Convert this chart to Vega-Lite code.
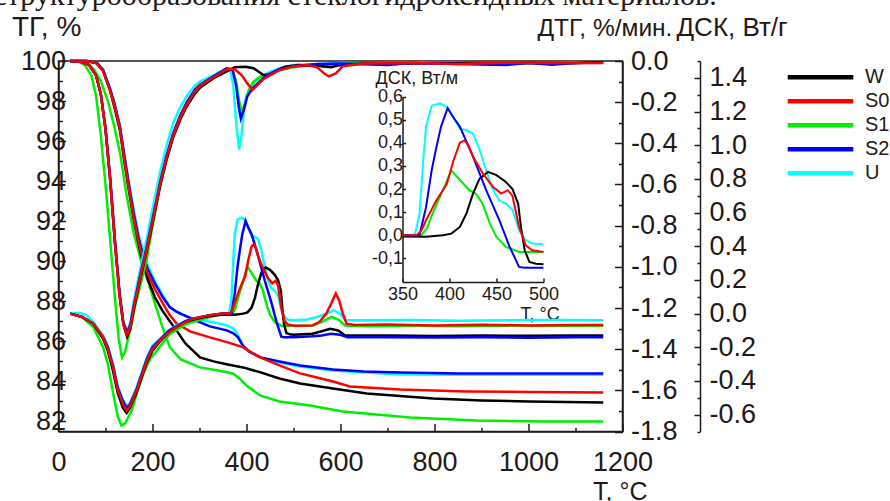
{
"$schema": "https://vega.github.io/schema/vega-lite/v6.json",
"width": 564, "height": 370.5,
"autosize": {"type": "none"},
"padding": {"left": 58.5, "top": 61, "right": 267.5, "bottom": 69.5},
"background": "white",
"title": {"text": "структурообразования стеклогидроксидных материалов.", "anchor": "start", "frame": "group", "orient": "top", "font": "Liberation Serif", "fontSize": 30, "fontWeight": "normal", "color": "#231815", "baseline": "alphabetic", "offset": -21, "dx": -65},
"config": {
  "view": {"stroke": "#231815", "strokeWidth": 1.5},
  "font": "Liberation Sans",
  "axis": {"labelFont": "Liberation Sans", "titleFont": "Liberation Sans", "labelColor": "#231815", "titleColor": "#231815", "domainColor": "#231815", "tickColor": "#231815", "grid": false, "titleFontWeight": "normal", "domainWidth": 1.5, "tickWidth": 1.5, "labelFlush": false, "labelOverlap": false},
  "legend": {"orient": "none", "legendX": 726.5, "legendY": 6.3, "symbolType": "stroke", "symbolSize": 4300, "symbolStrokeWidth": 4.5, "clipHeight": 20, "rowPadding": 4, "labelFontSize": 20, "labelFont": "Liberation Sans", "labelColor": "#231815", "labelOffset": 9, "padding": 0, "title": null}
},
"datasets": {
"tg": [
{"s":"U","T":25,"v":100},{"s":"U","T":60,"v":100},{"s":"U","T":82,"v":99.9},{"s":"U","T":95,"v":99.55},{"s":"U","T":110,"v":98.6},{"s":"U","T":120,"v":97.8},{"s":"U","T":131,"v":96.7},{"s":"U","T":140,"v":95.3},{"s":"U","T":150,"v":93.9},{"s":"U","T":160,"v":92.6},{"s":"U","T":170,"v":91.4},{"s":"U","T":180,"v":90.5},{"s":"U","T":190,"v":89.8},{"s":"U","T":205,"v":89.0},{"s":"U","T":222,"v":88.3},{"s":"U","T":237,"v":87.7},{"s":"U","T":260,"v":87.35},{"s":"U","T":301,"v":87.05},{"s":"U","T":330,"v":86.95},{"s":"U","T":358,"v":86.8},{"s":"U","T":372,"v":86.65},{"s":"U","T":380,"v":86.4},{"s":"U","T":388,"v":86.0},{"s":"U","T":396,"v":85.7},{"s":"U","T":410,"v":85.45},{"s":"U","T":429,"v":85.2},{"s":"U","T":470,"v":84.95},{"s":"U","T":514,"v":84.75},{"s":"U","T":584,"v":84.55},{"s":"U","T":727,"v":84.35},{"s":"U","T":900,"v":84.33},{"s":"U","T":1159,"v":84.33},
{"s":"S1","T":25,"v":100},{"s":"S1","T":45,"v":100},{"s":"S1","T":60,"v":99.9},{"s":"S1","T":75,"v":99.6},{"s":"S1","T":90,"v":99.0},{"s":"S1","T":105,"v":98.0},{"s":"S1","T":118,"v":96.8},{"s":"S1","T":131,"v":95.4},{"s":"S1","T":145,"v":93.3},{"s":"S1","T":160,"v":91.4},{"s":"S1","T":175,"v":90.1},{"s":"S1","T":190,"v":89.05},{"s":"S1","T":205,"v":87.9},{"s":"S1","T":220,"v":86.8},{"s":"S1","T":237,"v":85.7},{"s":"S1","T":260,"v":85.1},{"s":"S1","T":301,"v":84.7},{"s":"S1","T":340,"v":84.55},{"s":"S1","T":371,"v":84.4},{"s":"S1","T":385,"v":84.15},{"s":"S1","T":400,"v":83.8},{"s":"S1","T":429,"v":83.3},{"s":"S1","T":470,"v":83.0},{"s":"S1","T":535,"v":82.8},{"s":"S1","T":605,"v":82.5},{"s":"S1","T":748,"v":82.2},{"s":"S1","T":890,"v":82.05},{"s":"S1","T":1031,"v":82.0},{"s":"S1","T":1159,"v":82.0},
{"s":"W","T":25,"v":100},{"s":"W","T":60,"v":100},{"s":"W","T":80,"v":99.9},{"s":"W","T":95,"v":99.5},{"s":"W","T":110,"v":98.5},{"s":"W","T":120,"v":97.6},{"s":"W","T":131,"v":96.5},{"s":"W","T":140,"v":95.0},{"s":"W","T":150,"v":93.5},{"s":"W","T":160,"v":92.1},{"s":"W","T":170,"v":90.9},{"s":"W","T":180,"v":89.9},{"s":"W","T":190,"v":89.1},{"s":"W","T":205,"v":88.2},{"s":"W","T":222,"v":87.5},{"s":"W","T":237,"v":87.0},{"s":"W","T":251,"v":86.55},{"s":"W","T":270,"v":85.9},{"s":"W","T":301,"v":85.2},{"s":"W","T":330,"v":85.0},{"s":"W","T":360,"v":84.85},{"s":"W","T":393,"v":84.7},{"s":"W","T":430,"v":84.45},{"s":"W","T":470,"v":84.15},{"s":"W","T":514,"v":83.9},{"s":"W","T":584,"v":83.65},{"s":"W","T":656,"v":83.4},{"s":"W","T":797,"v":83.15},{"s":"W","T":900,"v":83.05},{"s":"W","T":1000,"v":83.0},{"s":"W","T":1159,"v":82.95},
{"s":"S2","T":25,"v":100},{"s":"S2","T":60,"v":100},{"s":"S2","T":82,"v":99.9},{"s":"S2","T":95,"v":99.55},{"s":"S2","T":110,"v":98.6},{"s":"S2","T":120,"v":97.8},{"s":"S2","T":131,"v":96.7},{"s":"S2","T":140,"v":95.3},{"s":"S2","T":150,"v":93.8},{"s":"S2","T":160,"v":92.4},{"s":"S2","T":170,"v":91.2},{"s":"S2","T":180,"v":90.3},{"s":"S2","T":190,"v":89.6},{"s":"S2","T":205,"v":88.9},{"s":"S2","T":222,"v":88.2},{"s":"S2","T":237,"v":87.7},{"s":"S2","T":250,"v":87.5},{"s":"S2","T":286,"v":87.1},{"s":"S2","T":322,"v":86.75},{"s":"S2","T":358,"v":86.55},{"s":"S2","T":372,"v":86.4},{"s":"S2","T":382,"v":86.2},{"s":"S2","T":392,"v":85.8},{"s":"S2","T":405,"v":85.5},{"s":"S2","T":430,"v":85.2},{"s":"S2","T":470,"v":85.0},{"s":"S2","T":514,"v":84.8},{"s":"S2","T":584,"v":84.6},{"s":"S2","T":650,"v":84.5},{"s":"S2","T":727,"v":84.45},{"s":"S2","T":850,"v":84.4},{"s":"S2","T":1000,"v":84.4},{"s":"S2","T":1159,"v":84.4},
{"s":"S0","T":25,"v":100},{"s":"S0","T":60,"v":100},{"s":"S0","T":80,"v":99.9},{"s":"S0","T":95,"v":99.5},{"s":"S0","T":110,"v":98.5},{"s":"S0","T":120,"v":97.7},{"s":"S0","T":131,"v":96.6},{"s":"S0","T":140,"v":95.1},{"s":"S0","T":150,"v":93.6},{"s":"S0","T":160,"v":92.2},{"s":"S0","T":170,"v":91.0},{"s":"S0","T":180,"v":90.1},{"s":"S0","T":190,"v":89.4},{"s":"S0","T":205,"v":88.6},{"s":"S0","T":222,"v":87.9},{"s":"S0","T":237,"v":87.3},{"s":"S0","T":251,"v":86.9},{"s":"S0","T":280,"v":86.5},{"s":"S0","T":322,"v":86.2},{"s":"S0","T":360,"v":85.95},{"s":"S0","T":393,"v":85.7},{"s":"S0","T":410,"v":85.45},{"s":"S0","T":429,"v":85.2},{"s":"S0","T":470,"v":84.8},{"s":"S0","T":514,"v":84.4},{"s":"S0","T":550,"v":84.2},{"s":"S0","T":584,"v":84.0},{"s":"S0","T":620,"v":83.75},{"s":"S0","T":727,"v":83.6},{"s":"S0","T":868,"v":83.5},{"s":"S0","T":1000,"v":83.47},{"s":"S0","T":1159,"v":83.45}
],
"dtg": [
{"s":"U","T":25,"v":0},{"s":"U","T":50,"v":-0.005},{"s":"U","T":65,"v":-0.02},{"s":"U","T":80,"v":-0.07},{"s":"U","T":90,"v":-0.16},{"s":"U","T":100,"v":-0.33},{"s":"U","T":110,"v":-0.57},{"s":"U","T":120,"v":-0.87},{"s":"U","T":130,"v":-1.13},{"s":"U","T":138,"v":-1.27},{"s":"U","T":146,"v":-1.31},{"s":"U","T":153,"v":-1.27},{"s":"U","T":160,"v":-1.17},{"s":"U","T":173,"v":-1.02},{"s":"U","T":188,"v":-0.86},{"s":"U","T":200,"v":-0.72},{"s":"U","T":216,"v":-0.54},{"s":"U","T":230,"v":-0.41},{"s":"U","T":244,"v":-0.3},{"s":"U","T":260,"v":-0.22},{"s":"U","T":273,"v":-0.17},{"s":"U","T":290,"v":-0.12},{"s":"U","T":301,"v":-0.1},{"s":"U","T":329,"v":-0.07},{"s":"U","T":358,"v":-0.035},{"s":"U","T":366,"v":-0.05},{"s":"U","T":372,"v":-0.12},{"s":"U","T":378,"v":-0.3},{"s":"U","T":384,"v":-0.43},{"s":"U","T":389,"v":-0.37},{"s":"U","T":394,"v":-0.25},{"s":"U","T":400,"v":-0.17},{"s":"U","T":414,"v":-0.11},{"s":"U","T":443,"v":-0.06},{"s":"U","T":470,"v":-0.035},{"s":"U","T":500,"v":-0.02},{"s":"U","T":560,"v":-0.015},{"s":"U","T":600,"v":-0.01},{"s":"U","T":700,"v":-0.012},{"s":"U","T":800,"v":-0.008},{"s":"U","T":900,"v":-0.012},{"s":"U","T":1000,"v":-0.008},{"s":"U","T":1159,"v":-0.005},
{"s":"S1","T":25,"v":0},{"s":"S1","T":45,"v":-0.005},{"s":"S1","T":56,"v":-0.02},{"s":"S1","T":70,"v":-0.07},{"s":"S1","T":80,"v":-0.17},{"s":"S1","T":90,"v":-0.36},{"s":"S1","T":100,"v":-0.6},{"s":"S1","T":110,"v":-0.87},{"s":"S1","T":120,"v":-1.15},{"s":"S1","T":128,"v":-1.35},{"s":"S1","T":135,"v":-1.44},{"s":"S1","T":142,"v":-1.41},{"s":"S1","T":152,"v":-1.31},{"s":"S1","T":163,"v":-1.19},{"s":"S1","T":173,"v":-1.1},{"s":"S1","T":188,"v":-0.96},{"s":"S1","T":200,"v":-0.8},{"s":"S1","T":216,"v":-0.61},{"s":"S1","T":230,"v":-0.47},{"s":"S1","T":244,"v":-0.36},{"s":"S1","T":260,"v":-0.27},{"s":"S1","T":273,"v":-0.21},{"s":"S1","T":290,"v":-0.15},{"s":"S1","T":301,"v":-0.12},{"s":"S1","T":329,"v":-0.08},{"s":"S1","T":358,"v":-0.04},{"s":"S1","T":370,"v":-0.04},{"s":"S1","T":378,"v":-0.1},{"s":"S1","T":384,"v":-0.19},{"s":"S1","T":390,"v":-0.25},{"s":"S1","T":396,"v":-0.21},{"s":"S1","T":405,"v":-0.14},{"s":"S1","T":415,"v":-0.1},{"s":"S1","T":430,"v":-0.075},{"s":"S1","T":450,"v":-0.06},{"s":"S1","T":470,"v":-0.045},{"s":"S1","T":500,"v":-0.03},{"s":"S1","T":540,"v":-0.02},{"s":"S1","T":570,"v":-0.025},{"s":"S1","T":590,"v":-0.02},{"s":"S1","T":620,"v":-0.012},{"s":"S1","T":700,"v":-0.01},{"s":"S1","T":800,"v":-0.008},{"s":"S1","T":900,"v":-0.012},{"s":"S1","T":1000,"v":-0.008},{"s":"S1","T":1100,"v":-0.01},{"s":"S1","T":1159,"v":-0.005},
{"s":"W","T":25,"v":0},{"s":"W","T":50,"v":-0.005},{"s":"W","T":65,"v":-0.02},{"s":"W","T":80,"v":-0.07},{"s":"W","T":90,"v":-0.16},{"s":"W","T":100,"v":-0.33},{"s":"W","T":110,"v":-0.58},{"s":"W","T":120,"v":-0.88},{"s":"W","T":130,"v":-1.14},{"s":"W","T":138,"v":-1.28},{"s":"W","T":146,"v":-1.34},{"s":"W","T":153,"v":-1.3},{"s":"W","T":160,"v":-1.21},{"s":"W","T":173,"v":-1.07},{"s":"W","T":188,"v":-0.92},{"s":"W","T":200,"v":-0.79},{"s":"W","T":216,"v":-0.61},{"s":"W","T":230,"v":-0.48},{"s":"W","T":244,"v":-0.37},{"s":"W","T":260,"v":-0.28},{"s":"W","T":273,"v":-0.22},{"s":"W","T":290,"v":-0.16},{"s":"W","T":301,"v":-0.13},{"s":"W","T":329,"v":-0.085},{"s":"W","T":358,"v":-0.05},{"s":"W","T":375,"v":-0.03},{"s":"W","T":398,"v":-0.028},{"s":"W","T":415,"v":-0.035},{"s":"W","T":436,"v":-0.068},{"s":"W","T":450,"v":-0.065},{"s":"W","T":465,"v":-0.045},{"s":"W","T":482,"v":-0.028},{"s":"W","T":510,"v":-0.02},{"s":"W","T":560,"v":-0.025},{"s":"W","T":580,"v":-0.03},{"s":"W","T":600,"v":-0.02},{"s":"W","T":650,"v":-0.012},{"s":"W","T":700,"v":-0.015},{"s":"W","T":800,"v":-0.01},{"s":"W","T":900,"v":-0.012},{"s":"W","T":1000,"v":-0.008},{"s":"W","T":1100,"v":-0.01},{"s":"W","T":1159,"v":-0.005},
{"s":"S2","T":25,"v":0},{"s":"S2","T":50,"v":-0.005},{"s":"S2","T":65,"v":-0.02},{"s":"S2","T":80,"v":-0.07},{"s":"S2","T":90,"v":-0.16},{"s":"S2","T":100,"v":-0.33},{"s":"S2","T":110,"v":-0.57},{"s":"S2","T":120,"v":-0.87},{"s":"S2","T":130,"v":-1.13},{"s":"S2","T":138,"v":-1.27},{"s":"S2","T":146,"v":-1.32},{"s":"S2","T":153,"v":-1.28},{"s":"S2","T":160,"v":-1.19},{"s":"S2","T":173,"v":-1.05},{"s":"S2","T":188,"v":-0.9},{"s":"S2","T":200,"v":-0.77},{"s":"S2","T":216,"v":-0.59},{"s":"S2","T":230,"v":-0.46},{"s":"S2","T":244,"v":-0.35},{"s":"S2","T":260,"v":-0.26},{"s":"S2","T":273,"v":-0.2},{"s":"S2","T":290,"v":-0.14},{"s":"S2","T":301,"v":-0.115},{"s":"S2","T":329,"v":-0.075},{"s":"S2","T":358,"v":-0.035},{"s":"S2","T":370,"v":-0.04},{"s":"S2","T":378,"v":-0.12},{"s":"S2","T":384,"v":-0.23},{"s":"S2","T":388,"v":-0.28},{"s":"S2","T":394,"v":-0.24},{"s":"S2","T":402,"v":-0.17},{"s":"S2","T":414,"v":-0.13},{"s":"S2","T":428,"v":-0.1},{"s":"S2","T":443,"v":-0.07},{"s":"S2","T":470,"v":-0.04},{"s":"S2","T":500,"v":-0.025},{"s":"S2","T":550,"v":-0.015},{"s":"S2","T":600,"v":-0.012},{"s":"S2","T":700,"v":-0.02},{"s":"S2","T":750,"v":-0.01},{"s":"S2","T":850,"v":-0.015},{"s":"S2","T":950,"v":-0.02},{"s":"S2","T":1000,"v":-0.01},{"s":"S2","T":1050,"v":-0.018},{"s":"S2","T":1100,"v":-0.01},{"s":"S2","T":1159,"v":-0.008},
{"s":"S0","T":25,"v":0},{"s":"S0","T":50,"v":-0.005},{"s":"S0","T":65,"v":-0.02},{"s":"S0","T":80,"v":-0.07},{"s":"S0","T":90,"v":-0.16},{"s":"S0","T":100,"v":-0.33},{"s":"S0","T":110,"v":-0.58},{"s":"S0","T":120,"v":-0.88},{"s":"S0","T":130,"v":-1.14},{"s":"S0","T":138,"v":-1.28},{"s":"S0","T":146,"v":-1.33},{"s":"S0","T":153,"v":-1.29},{"s":"S0","T":160,"v":-1.2},{"s":"S0","T":173,"v":-1.06},{"s":"S0","T":188,"v":-0.91},{"s":"S0","T":200,"v":-0.78},{"s":"S0","T":216,"v":-0.6},{"s":"S0","T":230,"v":-0.47},{"s":"S0","T":244,"v":-0.36},{"s":"S0","T":260,"v":-0.27},{"s":"S0","T":273,"v":-0.21},{"s":"S0","T":290,"v":-0.15},{"s":"S0","T":301,"v":-0.12},{"s":"S0","T":329,"v":-0.08},{"s":"S0","T":358,"v":-0.04},{"s":"S0","T":375,"v":-0.04},{"s":"S0","T":390,"v":-0.07},{"s":"S0","T":402,"v":-0.11},{"s":"S0","T":413,"v":-0.14},{"s":"S0","T":422,"v":-0.12},{"s":"S0","T":435,"v":-0.09},{"s":"S0","T":450,"v":-0.07},{"s":"S0","T":470,"v":-0.045},{"s":"S0","T":500,"v":-0.025},{"s":"S0","T":530,"v":-0.02},{"s":"S0","T":550,"v":-0.03},{"s":"S0","T":565,"v":-0.06},{"s":"S0","T":575,"v":-0.075},{"s":"S0","T":590,"v":-0.06},{"s":"S0","T":605,"v":-0.025},{"s":"S0","T":650,"v":-0.012},{"s":"S0","T":750,"v":-0.01},{"s":"S0","T":850,"v":-0.015},{"s":"S0","T":950,"v":-0.008},{"s":"S0","T":1050,"v":-0.01},{"s":"S0","T":1159,"v":-0.01}
],
"dsc": [
{"s":"U","T":25,"v":0.0},{"s":"U","T":45,"v":0.005},{"s":"U","T":60,"v":-0.01},{"s":"U","T":74,"v":-0.05},{"s":"U","T":95,"v":-0.13},{"s":"U","T":105,"v":-0.19},{"s":"U","T":116,"v":-0.3},{"s":"U","T":126,"v":-0.43},{"s":"U","T":137,"v":-0.51},{"s":"U","T":145,"v":-0.55},{"s":"U","T":152,"v":-0.53},{"s":"U","T":166,"v":-0.44},{"s":"U","T":177,"v":-0.35},{"s":"U","T":188,"v":-0.26},{"s":"U","T":200,"v":-0.19},{"s":"U","T":216,"v":-0.15},{"s":"U","T":235,"v":-0.1},{"s":"U","T":251,"v":-0.07},{"s":"U","T":270,"v":-0.045},{"s":"U","T":286,"v":-0.03},{"s":"U","T":322,"v":-0.01},{"s":"U","T":350,"v":0.0},{"s":"U","T":363,"v":0.0},{"s":"U","T":368,"v":0.09},{"s":"U","T":372,"v":0.32},{"s":"U","T":375,"v":0.47},{"s":"U","T":381,"v":0.56},{"s":"U","T":390,"v":0.57},{"s":"U","T":397,"v":0.555},{"s":"U","T":404,"v":0.51},{"s":"U","T":411,"v":0.46},{"s":"U","T":418,"v":0.455},{"s":"U","T":425,"v":0.44},{"s":"U","T":432,"v":0.37},{"s":"U","T":439,"v":0.28},{"s":"U","T":446,"v":0.2},{"s":"U","T":453,"v":0.15},{"s":"U","T":460,"v":0.137},{"s":"U","T":467,"v":0.11},{"s":"U","T":474,"v":0.02},{"s":"U","T":481,"v":-0.02},{"s":"U","T":488,"v":-0.036},{"s":"U","T":500,"v":-0.039},{"s":"U","T":529,"v":-0.035},{"s":"U","T":550,"v":-0.02},{"s":"U","T":570,"v":0.0},{"s":"U","T":585,"v":0.02},{"s":"U","T":598,"v":0.0},{"s":"U","T":612,"v":-0.04},{"s":"U","T":650,"v":-0.04},{"s":"U","T":750,"v":-0.038},{"s":"U","T":850,"v":-0.042},{"s":"U","T":950,"v":-0.04},{"s":"U","T":1050,"v":-0.038},{"s":"U","T":1159,"v":-0.04},
{"s":"S1","T":25,"v":0.0},{"s":"S1","T":50,"v":-0.02},{"s":"S1","T":74,"v":-0.08},{"s":"S1","T":95,"v":-0.2},{"s":"S1","T":105,"v":-0.3},{"s":"S1","T":116,"v":-0.47},{"s":"S1","T":126,"v":-0.61},{"s":"S1","T":134,"v":-0.665},{"s":"S1","T":142,"v":-0.65},{"s":"S1","T":156,"v":-0.575},{"s":"S1","T":168,"v":-0.46},{"s":"S1","T":180,"v":-0.36},{"s":"S1","T":195,"v":-0.27},{"s":"S1","T":209,"v":-0.22},{"s":"S1","T":237,"v":-0.12},{"s":"S1","T":273,"v":-0.06},{"s":"S1","T":310,"v":-0.03},{"s":"S1","T":350,"v":0.0},{"s":"S1","T":370,"v":0.0},{"s":"S1","T":376,"v":0.03},{"s":"S1","T":382,"v":0.094},{"s":"S1","T":393,"v":0.195},{"s":"S1","T":402,"v":0.28},{"s":"S1","T":411,"v":0.24},{"s":"S1","T":421,"v":0.195},{"s":"S1","T":428,"v":0.18},{"s":"S1","T":435,"v":0.137},{"s":"S1","T":443,"v":0.05},{"s":"S1","T":450,"v":-0.007},{"s":"S1","T":460,"v":-0.05},{"s":"S1","T":474,"v":-0.072},{"s":"S1","T":500,"v":-0.072},{"s":"S1","T":540,"v":-0.07},{"s":"S1","T":560,"v":-0.05},{"s":"S1","T":581,"v":-0.02},{"s":"S1","T":595,"v":-0.035},{"s":"S1","T":610,"v":-0.07},{"s":"S1","T":650,"v":-0.075},{"s":"S1","T":750,"v":-0.072},{"s":"S1","T":850,"v":-0.075},{"s":"S1","T":950,"v":-0.072},{"s":"S1","T":1050,"v":-0.074},{"s":"S1","T":1159,"v":-0.072},
{"s":"W","T":25,"v":0.0},{"s":"W","T":50,"v":-0.02},{"s":"W","T":74,"v":-0.06},{"s":"W","T":95,"v":-0.15},{"s":"W","T":105,"v":-0.22},{"s":"W","T":116,"v":-0.34},{"s":"W","T":126,"v":-0.47},{"s":"W","T":137,"v":-0.56},{"s":"W","T":145,"v":-0.59},{"s":"W","T":152,"v":-0.56},{"s":"W","T":166,"v":-0.47},{"s":"W","T":177,"v":-0.38},{"s":"W","T":188,"v":-0.29},{"s":"W","T":200,"v":-0.22},{"s":"W","T":216,"v":-0.165},{"s":"W","T":235,"v":-0.11},{"s":"W","T":251,"v":-0.08},{"s":"W","T":270,"v":-0.05},{"s":"W","T":286,"v":-0.035},{"s":"W","T":322,"v":-0.015},{"s":"W","T":350,"v":-0.005},{"s":"W","T":375,"v":-0.007},{"s":"W","T":393,"v":0.0},{"s":"W","T":402,"v":0.007},{"s":"W","T":411,"v":0.036},{"s":"W","T":418,"v":0.094},{"s":"W","T":425,"v":0.18},{"s":"W","T":432,"v":0.245},{"s":"W","T":441,"v":0.274},{"s":"W","T":450,"v":0.26},{"s":"W","T":460,"v":0.23},{"s":"W","T":467,"v":0.2},{"s":"W","T":473,"v":0.137},{"s":"W","T":476,"v":0.036},{"s":"W","T":480,"v":-0.065},{"s":"W","T":485,"v":-0.115},{"s":"W","T":492,"v":-0.123},{"s":"W","T":500,"v":-0.125},{"s":"W","T":540,"v":-0.12},{"s":"W","T":560,"v":-0.105},{"s":"W","T":578,"v":-0.09},{"s":"W","T":595,"v":-0.1},{"s":"W","T":610,"v":-0.13},{"s":"W","T":700,"v":-0.13},{"s":"W","T":800,"v":-0.133},{"s":"W","T":900,"v":-0.13},{"s":"W","T":1000,"v":-0.132},{"s":"W","T":1100,"v":-0.13},{"s":"W","T":1159,"v":-0.13},
{"s":"S2","T":25,"v":0.0},{"s":"S2","T":50,"v":-0.02},{"s":"S2","T":74,"v":-0.06},{"s":"S2","T":95,"v":-0.14},{"s":"S2","T":105,"v":-0.2},{"s":"S2","T":116,"v":-0.31},{"s":"S2","T":126,"v":-0.44},{"s":"S2","T":137,"v":-0.52},{"s":"S2","T":145,"v":-0.56},{"s":"S2","T":152,"v":-0.54},{"s":"S2","T":166,"v":-0.45},{"s":"S2","T":177,"v":-0.36},{"s":"S2","T":188,"v":-0.27},{"s":"S2","T":200,"v":-0.2},{"s":"S2","T":216,"v":-0.155},{"s":"S2","T":235,"v":-0.1},{"s":"S2","T":251,"v":-0.075},{"s":"S2","T":270,"v":-0.045},{"s":"S2","T":286,"v":-0.03},{"s":"S2","T":322,"v":-0.01},{"s":"S2","T":350,"v":0.0},{"s":"S2","T":368,"v":0.0},{"s":"S2","T":375,"v":0.12},{"s":"S2","T":381,"v":0.28},{"s":"S2","T":386,"v":0.38},{"s":"S2","T":391,"v":0.47},{"s":"S2","T":398,"v":0.55},{"s":"S2","T":404,"v":0.51},{"s":"S2","T":411,"v":0.47},{"s":"S2","T":425,"v":0.34},{"s":"S2","T":439,"v":0.195},{"s":"S2","T":453,"v":0.065},{"s":"S2","T":464,"v":-0.05},{"s":"S2","T":474,"v":-0.137},{"s":"S2","T":480,"v":-0.14},{"s":"S2","T":500,"v":-0.14},{"s":"S2","T":540,"v":-0.135},{"s":"S2","T":560,"v":-0.13},{"s":"S2","T":580,"v":-0.12},{"s":"S2","T":598,"v":-0.125},{"s":"S2","T":615,"v":-0.14},{"s":"S2","T":700,"v":-0.14},{"s":"S2","T":800,"v":-0.142},{"s":"S2","T":900,"v":-0.14},{"s":"S2","T":1000,"v":-0.143},{"s":"S2","T":1100,"v":-0.14},{"s":"S2","T":1159,"v":-0.14},
{"s":"S0","T":25,"v":0.0},{"s":"S0","T":50,"v":-0.02},{"s":"S0","T":74,"v":-0.06},{"s":"S0","T":95,"v":-0.14},{"s":"S0","T":105,"v":-0.21},{"s":"S0","T":116,"v":-0.32},{"s":"S0","T":126,"v":-0.45},{"s":"S0","T":137,"v":-0.54},{"s":"S0","T":145,"v":-0.575},{"s":"S0","T":152,"v":-0.55},{"s":"S0","T":166,"v":-0.46},{"s":"S0","T":177,"v":-0.37},{"s":"S0","T":188,"v":-0.28},{"s":"S0","T":200,"v":-0.21},{"s":"S0","T":216,"v":-0.16},{"s":"S0","T":235,"v":-0.11},{"s":"S0","T":251,"v":-0.08},{"s":"S0","T":270,"v":-0.05},{"s":"S0","T":286,"v":-0.03},{"s":"S0","T":322,"v":-0.01},{"s":"S0","T":350,"v":0.0},{"s":"S0","T":365,"v":0.0},{"s":"S0","T":370,"v":0.02},{"s":"S0","T":375,"v":0.065},{"s":"S0","T":386,"v":0.15},{"s":"S0","T":397,"v":0.22},{"s":"S0","T":404,"v":0.32},{"s":"S0","T":411,"v":0.4},{"s":"S0","T":416,"v":0.41},{"s":"S0","T":420,"v":0.39},{"s":"S0","T":425,"v":0.34},{"s":"S0","T":435,"v":0.27},{"s":"S0","T":446,"v":0.21},{"s":"S0","T":455,"v":0.18},{"s":"S0","T":462,"v":0.195},{"s":"S0","T":467,"v":0.17},{"s":"S0","T":474,"v":0.036},{"s":"S0","T":481,"v":-0.043},{"s":"S0","T":488,"v":-0.065},{"s":"S0","T":500,"v":-0.072},{"s":"S0","T":540,"v":-0.07},{"s":"S0","T":555,"v":-0.05},{"s":"S0","T":570,"v":0.0},{"s":"S0","T":582,"v":0.07},{"s":"S0","T":590,"v":0.12},{"s":"S0","T":597,"v":0.08},{"s":"S0","T":605,"v":0.0},{"s":"S0","T":613,"v":-0.06},{"s":"S0","T":630,"v":-0.068},{"s":"S0","T":700,"v":-0.065},{"s":"S0","T":800,"v":-0.07},{"s":"S0","T":900,"v":-0.066},{"s":"S0","T":1000,"v":-0.07},{"s":"S0","T":1100,"v":-0.067},{"s":"S0","T":1159,"v":-0.068}
]
},
"layer": [
{
  "data": {"name": "tg"},
  "mark": {"type": "line", "strokeWidth": 2.5},
  "encoding": {
    "x": {"field": "T", "type": "quantitative", "scale": {"domain": [0, 1200]},
      "axis": {"orient": "bottom", "values": [0,100,200,300,400,500,600,700,800,900,1000,1100,1200],
        "tickSize": {"condition": {"test": "datum.value % 200 === 0", "value": -8}, "value": -4},
        "labelExpr": "datum.value % 200 === 0 ? format(datum.value, 'd') : ''",
        "labelFontSize": 27, "labelPadding": 26,
        "title": "T, °C", "titleFontSize": 25, "titleX": 534, "titleY": 67.5, "titleAlign": "left", "titleBaseline": "alphabetic", "titleAngle": 0}},
    "y": {"field": "v", "type": "quantitative", "scale": {"domain": [81.5, 100]},
      "axis": {"orient": "left", "values": [82,83,84,85,86,87,88,89,90,91,92,93,94,95,96,97,98,99,100],
        "tickSize": {"condition": {"test": "datum.value % 2 === 0", "value": -7}, "value": -4},
        "labelExpr": "datum.value % 2 === 0 ? datum.label : ''",
        "labelFontSize": 27, "labelPadding": 0,
        "title": "ТГ, %", "titleFontSize": 28, "titleAngle": 0, "titleX": -47, "titleY": -25.5, "titleAlign": "left", "titleBaseline": "alphabetic"}},
    "color": {"field": "s", "type": "nominal", "scale": {"domain": ["W","S0","S1","S2","U"], "range": ["#000000","#ff0000","#00ee00","#0000ff","#00ffff"]}}
  }
},
{
  "data": {"name": "dtg"},
  "mark": {"type": "line", "strokeWidth": 2.5},
  "encoding": {
    "x": {"field": "T", "type": "quantitative", "scale": {"domain": [0, 1200]}, "axis": null},
    "y": {"field": "v", "type": "quantitative", "scale": {"domain": [-1.8, 0]},
      "axis": {"orient": "right", "values": [0,-0.1,-0.2,-0.3,-0.4,-0.5,-0.6,-0.7,-0.8,-0.9,-1.0,-1.1,-1.2,-1.3,-1.4,-1.5,-1.6,-1.7,-1.8],
        "tickSize": {"condition": {"test": "abs(round(datum.value*10)) % 2 === 0", "value": -8}, "value": -4},
        "labelExpr": "abs(round(datum.value*10)) % 2 === 0 ? replace(format(datum.value, '.1f'), '\u2212', '-') : ''",
        "labelFontSize": 27, "labelPadding": 16,
        "title": "ДТГ, %/мин.", "titleFontSize": 24.5, "titleAngle": 0, "titleX": -85.5, "titleY": -25.5, "titleAlign": "left", "titleBaseline": "alphabetic"}},
    "color": {"field": "s", "type": "nominal"}
  }
},
{
  "data": {"name": "dsc"},
  "mark": {"type": "line", "strokeWidth": 2.5},
  "encoding": {
    "x": {"field": "T", "type": "quantitative", "scale": {"domain": [0, 1200]}, "axis": null},
    "y": {"field": "v", "type": "quantitative", "scale": {"domain": [-0.7, 1.5]},
      "axis": {"orient": "right", "offset": 77.5, "values": [1.5,1.4,1.3,1.2,1.1,1.0,0.9,0.8,0.7,0.6,0.5,0.4,0.3,0.2,0.1,0,-0.1,-0.2,-0.3,-0.4,-0.5,-0.6,-0.7],
        "tickSize": {"condition": {"test": "abs(round(datum.value*10)) % 2 === 0", "value": -6}, "value": -3},
        "labelExpr": "abs(round(datum.value*10)) % 2 === 0 ? replace(format(datum.value, '.1f'), '\u2212', '-') : ''",
        "labelFontSize": 27, "labelPadding": 15,
        "title": "ДСК, Вт/г", "titleFontSize": 26, "titleAngle": 0, "titleX": -24, "titleY": -25.5, "titleAlign": "left", "titleBaseline": "alphabetic"}},
    "color": {"field": "s", "type": "nominal"}
  }
},
{
  "data": {"name": "dsc"},
  "transform": [{"filter": "datum.T >= 350 && datum.T <= 500"}],
  "mark": {"type": "line", "strokeWidth": 2},
  "encoding": {
    "x": {"field": "T", "type": "quantitative", "scale": {"domain": [350, 500], "range": [344, 485]},
      "axis": {"orient": "bottom", "offset": -149.5, "values": [350, 400, 450, 500], "tickSize": -4,
        "labelFontSize": 18, "labelPadding": 7,
        "title": "T, °C", "titleFontSize": 18, "titleX": 461.5, "titleY": 37, "titleAlign": "left", "titleBaseline": "alphabetic", "titleAngle": 0}},
    "y": {"field": "v", "type": "quantitative", "scale": {"domain": [-0.2, 0.6], "range": [220.5, 35.5]},
      "axis": {"orient": "left", "offset": -344, "values": [-0.1, 0, 0.1, 0.2, 0.3, 0.4, 0.5, 0.6], "tickSize": -3,
        "labelExpr": "replace(replace(format(datum.value, '.1f'), '\u2212', '-'), '.', ',')",
        "labelFontSize": 18, "labelPadding": 3,
        "title": "ДСК, Вт/м", "titleFontSize": 18, "titleAngle": 0, "titleX": -27.5, "titleY": 22, "titleAlign": "left", "titleBaseline": "alphabetic"}},
    "color": {"field": "s", "type": "nominal"}
  }
}
],
"resolve": {"scale": {"x": "independent", "y": "independent"}, "axis": {"x": "independent", "y": "independent"}}
}
